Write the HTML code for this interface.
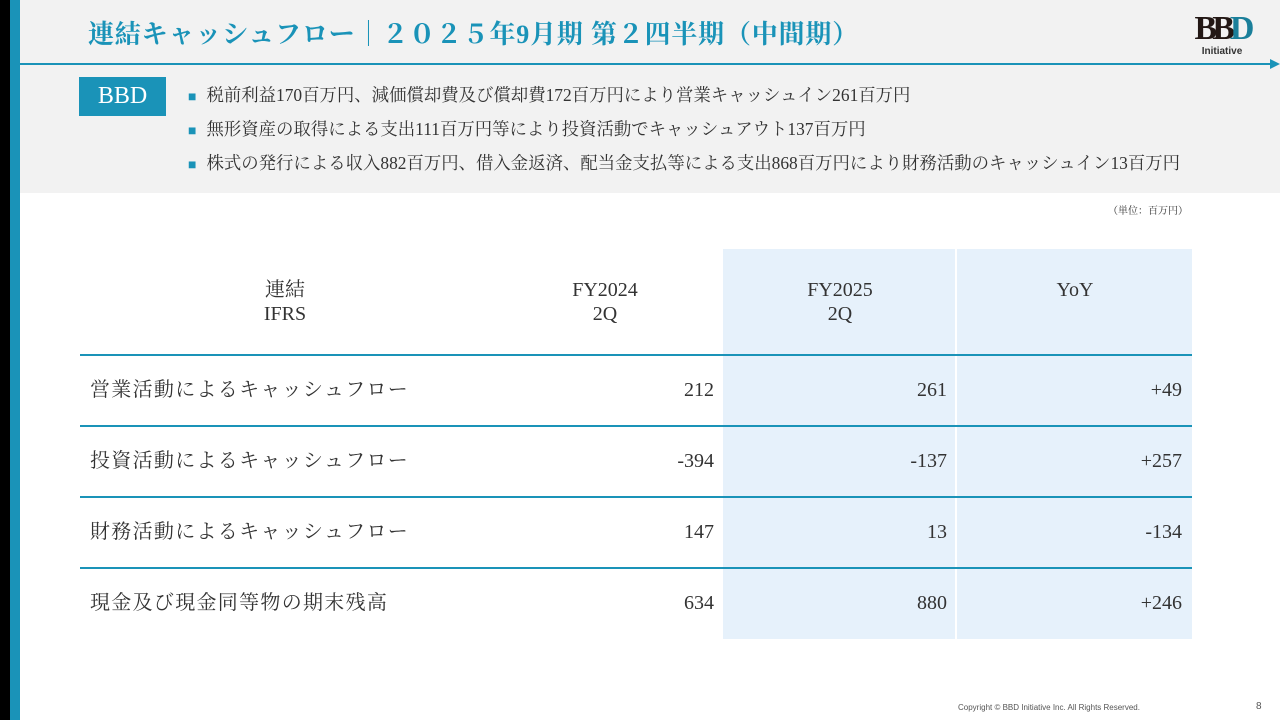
<!DOCTYPE html>
<html><head><meta charset="utf-8"><style>
body{margin:0;width:1280px;height:720px;position:relative;background:#fff;overflow:hidden;font-family:"Liberation Serif","Noto Serif CJK SC",serif;color:#333}
div{position:absolute;box-sizing:border-box}
.hdr{left:20px;top:0;width:1260px;height:193px;background:#f2f2f2}
.b{font-size:17.4px;color:#333;left:188px;white-space:nowrap}
.b span{color:#1a93b8;margin-right:10px;font-size:14px}
.cell{font-size:20px;color:#333;line-height:24px}
.line{left:80px;width:1112px;height:1.5px;background:#1a93b8}
</style></head><body>
<div style="left:0;top:0;width:10px;height:720px;background:#000"></div>
<div style="left:10px;top:0;width:10px;height:720px;background:#1a93b8"></div>
<div class="hdr"></div>
<div style="left:88px;top:14px;font-size:26px;font-weight:bold;color:#1a93b8;white-space:nowrap;letter-spacing:0.8px">連結キャッシュフロー｜２０２５年9月期 第２四半期（中間期）</div>
<div style="left:20px;top:63px;width:1252px;height:1.5px;background:#1a93b8"></div>
<div style="left:1270px;top:59px;width:0;height:0;border-top:5px solid transparent;border-bottom:5px solid transparent;border-left:10px solid #1a93b8"></div>
<div style="left:1186px;top:12px;width:72px;text-align:center">
<div style="position:relative;font-size:34px;font-weight:bold;line-height:34px;letter-spacing:-5px;color:#231815">BB<span style="color:#1a7f9a">D</span></div>
<div style="position:relative;font-family:'Liberation Sans',sans-serif;font-size:10px;font-weight:bold;color:#333">Initiative</div></div>
<div style="left:79px;top:77px;width:87px;height:39px;background:#1a93b8;color:#fff;font-size:24px;text-align:center;line-height:39px">BBD</div>
<div class="b" style="top:81px"><span>■</span>税前利益170百万円、減価償却費及び償却費172百万円により営業キャッシュイン261百万円</div>
<div class="b" style="top:115px"><span>■</span>無形資産の取得による支出111百万円等により投資活動でキャッシュアウト137百万円</div>
<div class="b" style="top:149px"><span>■</span>株式の発行による収入882百万円、借入金返済、配当金支払等による支出868百万円により財務活動のキャッシュイン13百万円</div>
<div style="left:1108px;top:202px;font-size:10px;color:#333">（単位：百万円）</div>
<div style="left:723px;top:249px;width:469px;height:390px;background:#e6f1fb"></div>
<div style="left:955px;top:249px;width:1.5px;height:390px;background:#fff"></div>
<div class="cell" style="left:200px;top:278px;width:170px;text-align:center">連結<br>IFRS</div>
<div class="cell" style="left:520px;top:278px;width:170px;text-align:center">FY2024<br>2Q</div>
<div class="cell" style="left:755px;top:278px;width:170px;text-align:center">FY2025<br>2Q</div>
<div class="cell" style="left:990px;top:278px;width:170px;text-align:center">YoY</div>
<div class="line" style="top:354px"></div>
<div class="line" style="top:425px"></div>
<div class="line" style="top:496px"></div>
<div class="line" style="top:567px"></div>
<div id="rows"></div>
<div style="left:958px;top:703px;font-family:'Liberation Sans',sans-serif;font-size:8px;color:#555">Copyright © BBD Initiative Inc. All Rights Reserved.</div>
<div style="left:1256px;top:701px;font-family:'Liberation Sans',sans-serif;font-size:10px;color:#555">8</div>
<script>
const labels=["営業活動によるキャッシュフロー","投資活動によるキャッシュフロー","財務活動によるキャッシュフロー","現金及び現金同等物の期末残高"];
const fy2024=["212","-394","147","634"];
const fy2025=["261","-137","13","880"];
const yoy=["+49","+257","-134","+246"];
const root=document.body;
function mk(txt,style,name){const d=document.createElement('div');d.className='cell';d.textContent=txt;d.setAttribute('style',style);


root.appendChild(d);}
labels.forEach((l,i)=>{const top=378+i*71;
mk(l,`left:90px;top:${top}px;letter-spacing:1.3px`,'row-label');
mk(fy2024[i],`left:560px;top:${top}px;width:154px;text-align:right`,'fy2024-value');
mk(fy2025[i],`left:790px;top:${top}px;width:157px;text-align:right`,'fy2025-value');
mk(yoy[i],`left:1030px;top:${top}px;width:152px;text-align:right`,'yoy-value');});
</script>
</body></html>
